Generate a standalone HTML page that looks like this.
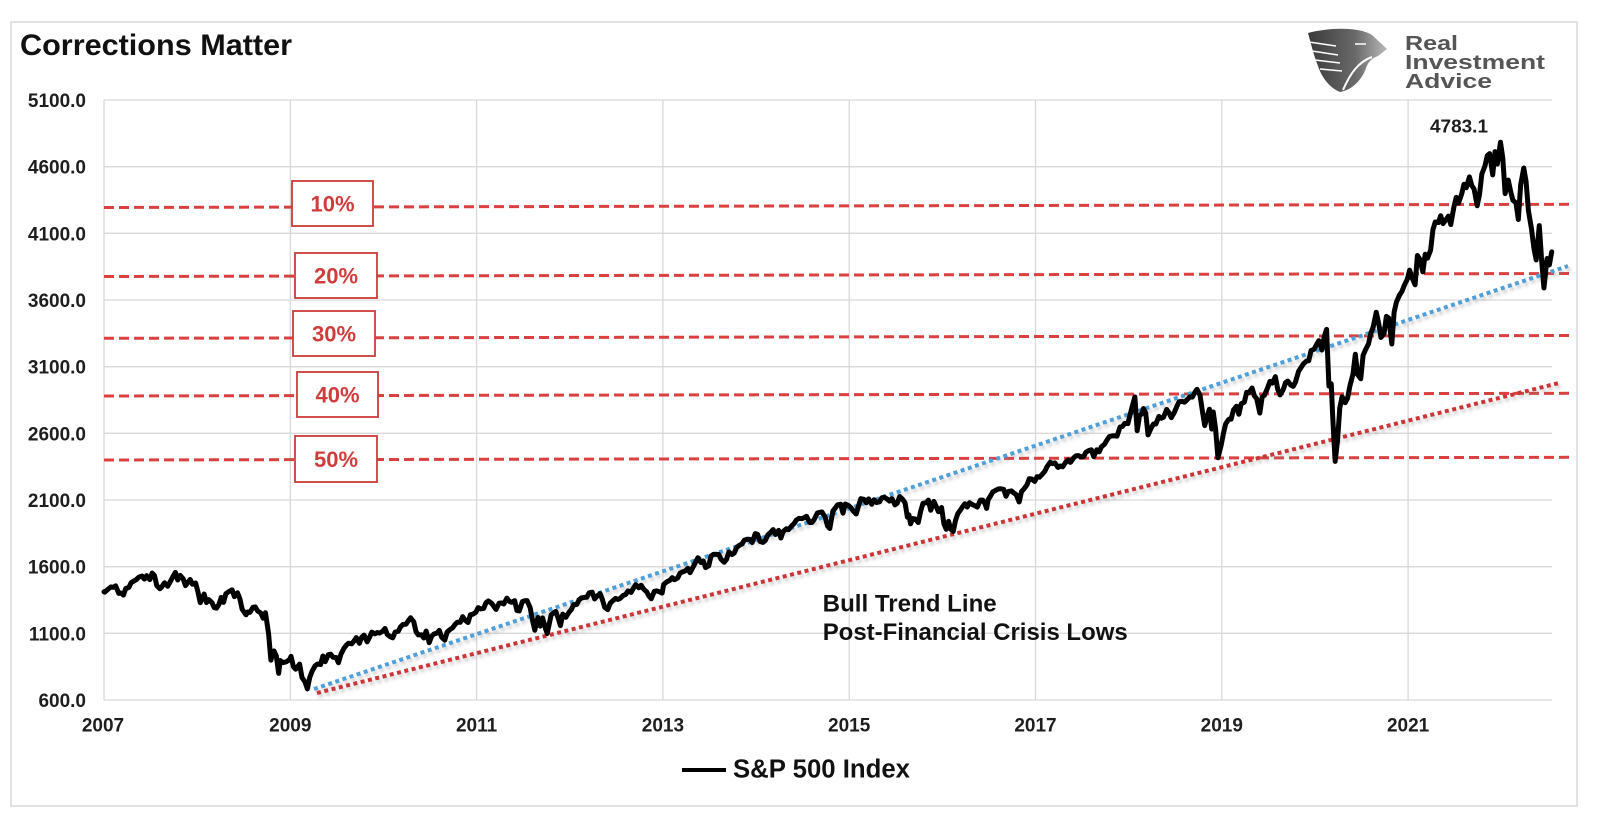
<!DOCTYPE html>
<html>
<head>
<meta charset="utf-8">
<style>
html,body{margin:0;padding:0;background:#fff;}
svg{display:block;}
text{font-family:"Liberation Sans",Arial,sans-serif;}
</style>
</head>
<body>
<svg width="1602" height="826" viewBox="0 0 1602 826" xmlns="http://www.w3.org/2000/svg">
<defs>
  <filter id="sh" x="-5%" y="-20%" width="110%" height="140%">
    <feDropShadow dx="2" dy="3" stdDeviation="1.6" flood-color="#888" flood-opacity="0.45"/>
  </filter>
  <linearGradient id="eg" x1="0" y1="0" x2="1" y2="0">
    <stop offset="0" stop-color="#3a3a3a"/>
    <stop offset="0.6" stop-color="#6a6a6a"/>
    <stop offset="1" stop-color="#b8b8b8"/>
  </linearGradient>
</defs>
<rect x="0" y="0" width="1602" height="826" fill="#fff"/>
<rect x="11" y="22" width="1566" height="784" fill="#fff" stroke="#d9d9d9" stroke-width="1.5"/>

<!-- title -->
<text x="20" y="55" font-size="30" font-weight="bold" fill="#111" textLength="272" lengthAdjust="spacingAndGlyphs">Corrections Matter</text>

<!-- logo -->
<g>
  <path d="M1308,33 C1330,27 1360,27 1372,35 L1387,49 L1378,56 C1372,58 1368,62 1366,68 C1362,80 1352,90 1340,92 C1330,88 1322,78 1318,66 C1314,56 1311,44 1308,33 Z" fill="url(#eg)"/>
  <path d="M1309,42 L1336,46 M1312,51 L1338,55 M1315,60 L1340,63 M1320,69 L1342,71" stroke="#fff" stroke-width="1.6" fill="none"/>
  <path d="M1372,57 C1358,62 1350,74 1343,90" stroke="#fff" stroke-width="2" fill="none"/>
  <path d="M1355,44 L1366,44" stroke="#ddd" stroke-width="2"/>
  <text x="1405" y="50" font-size="20" font-weight="bold" fill="#555" textLength="53" lengthAdjust="spacingAndGlyphs">Real</text>
  <text x="1405" y="69" font-size="20" font-weight="bold" fill="#555" textLength="140" lengthAdjust="spacingAndGlyphs">Investment</text>
  <text x="1405" y="88" font-size="20" font-weight="bold" fill="#555" textLength="87" lengthAdjust="spacingAndGlyphs">Advice</text>
</g>

<!-- grid -->
<g stroke="#d9d9d9" stroke-width="1.3" fill="none">
  <line x1="104" y1="100" x2="1552" y2="100"/>
  <line x1="104" y1="166.67" x2="1552" y2="166.67"/>
  <line x1="104" y1="233.33" x2="1552" y2="233.33"/>
  <line x1="104" y1="300" x2="1552" y2="300"/>
  <line x1="104" y1="366.67" x2="1552" y2="366.67"/>
  <line x1="104" y1="433.33" x2="1552" y2="433.33"/>
  <line x1="104" y1="500" x2="1552" y2="500"/>
  <line x1="104" y1="566.67" x2="1552" y2="566.67"/>
  <line x1="104" y1="633.33" x2="1552" y2="633.33"/>
  <line x1="104" y1="700" x2="1552" y2="700"/>
  <line x1="104" y1="100" x2="104" y2="700"/>
  <line x1="290.3" y1="100" x2="290.3" y2="700"/>
  <line x1="476.6" y1="100" x2="476.6" y2="700"/>
  <line x1="662.9" y1="100" x2="662.9" y2="700"/>
  <line x1="849.2" y1="100" x2="849.2" y2="700"/>
  <line x1="1035.5" y1="100" x2="1035.5" y2="700"/>
  <line x1="1221.8" y1="100" x2="1221.8" y2="700"/>
  <line x1="1408.1" y1="100" x2="1408.1" y2="700"/>
</g>

<!-- y labels -->
<g font-size="19" font-weight="bold" fill="#1e1e1e" text-anchor="end">
  <text x="86" y="107">5100.0</text>
  <text x="86" y="173.7">4600.0</text>
  <text x="86" y="240.3">4100.0</text>
  <text x="86" y="307">3600.0</text>
  <text x="86" y="373.7">3100.0</text>
  <text x="86" y="440.3">2600.0</text>
  <text x="86" y="507">2100.0</text>
  <text x="86" y="573.7">1600.0</text>
  <text x="86" y="640.3">1100.0</text>
  <text x="86" y="707">600.0</text>
</g>

<!-- x labels -->
<g font-size="19" font-weight="bold" fill="#1e1e1e" text-anchor="middle">
  <text x="103" y="731.5">2007</text>
  <text x="290.3" y="731.5">2009</text>
  <text x="476.6" y="731.5">2011</text>
  <text x="662.9" y="731.5">2013</text>
  <text x="849.2" y="731.5">2015</text>
  <text x="1035.5" y="731.5">2017</text>
  <text x="1221.8" y="731.5">2019</text>
  <text x="1408.1" y="731.5">2021</text>
</g>

<!-- correction dashed lines -->
<g stroke="#d9403f" stroke-width="3" stroke-dasharray="10 5" fill="none">
  <line x1="104" y1="207.5" x2="1572" y2="204.3"/>
  <line x1="104" y1="276.5" x2="1572" y2="273.5"/>
  <line x1="104" y1="338.3" x2="1572" y2="335.5"/>
  <line x1="104" y1="396" x2="1572" y2="393.3"/>
  <line x1="104" y1="460" x2="1572" y2="457.3"/>
</g>

<!-- trend lines -->
<g filter="url(#sh)" fill="none" stroke-width="4" stroke-dasharray="4 3.5">
  <line x1="314" y1="689" x2="1568" y2="266" stroke="#4f9fd8"/>
  <line x1="317" y1="693" x2="1559" y2="383" stroke="#cc3538"/>
</g>

<!-- S&P 500 series -->
<polyline fill="none" stroke="#000" stroke-width="5" stroke-linejoin="round" stroke-linecap="round" vector-effect="non-scaling-stroke"
 transform="matrix(7.7625 0 0 -0.1333333 104 780)"
 points="0,1412 0.1,1409 0.5,1430 0.9,1448 1.2,1445 1.5,1456 1.9,1400 2.2,1402 2.5,1387 2.8,1436 3.2,1444 3.5,1480 3.9,1494 4.2,1505 4.5,1522 4.9,1530 5.2,1507 5.5,1533 5.9,1503 6.2,1552 6.5,1534 6.8,1458 7.2,1434 7.4,1445 7.8,1479 8.2,1453 8.5,1484 8.9,1527 9.2,1557 9.5,1500 9.8,1535 10.2,1509 10.5,1458 10.8,1481 11.1,1504 11.4,1468 11.8,1478 12.1,1411 12.4,1330 12.6,1355 12.9,1395 13.2,1331 13.5,1353 13.9,1331 14.2,1293 14.5,1289 14.8,1316 15.1,1370 15.4,1332 15.7,1397 16.1,1413 16.5,1426 16.8,1375 17.2,1404 17.5,1360 17.8,1280 18.3,1239 18.5,1260 18.8,1257 19.2,1296 19.5,1298 19.8,1267 20.2,1252 20.5,1213 20.8,1255 21.2,1099 21.5,899 21.7,940 21.9,968 22.2,930 22.5,800 22.7,896 23.1,880 23.5,887 23.9,903 24.1,927 24.4,850 24.7,831 25.2,869 25.5,770 25.9,735 26.2,683 26.5,768 26.8,815 27.2,857 27.5,870 27.9,866 28.2,930 28.5,887 28.9,940 29.2,944 29.5,921 29.9,919 30.2,879 30.5,940 30.9,987 31.2,1010 31.5,1026 31.9,1021 32.2,1042 32.5,1068 32.9,1025 33.2,1071 33.5,1087 33.9,1036 34.2,1070 34.5,1109 34.9,1096 35.2,1106 35.5,1102 35.9,1115 36.2,1136 36.5,1091 36.9,1074 37.2,1066 37.5,1109 37.9,1115 38.2,1149 38.5,1166 38.9,1169 39.2,1194 39.5,1217 39.9,1187 40.2,1111 40.5,1088 40.9,1089 41.2,1065 41.5,1117 41.9,1030 42.2,1078 42.5,1095 42.9,1102 43.2,1122 43.5,1071 43.9,1049 44.2,1109 44.5,1125 44.9,1141 45.2,1165 45.5,1183 45.9,1183 46.2,1225 46.5,1199 46.9,1181 47.2,1240 47.5,1243 47.9,1258 48.2,1293 48.5,1283 48.9,1286 49.2,1329 49.5,1343 49.9,1327 50.2,1304 50.5,1279 50.9,1326 51.2,1328 51.5,1320 51.9,1364 52.2,1340 52.5,1333 52.9,1345 53.2,1271 53.5,1268 53.9,1339 54.2,1344 54.5,1345 54.9,1292 55.2,1199 55.5,1123 55.7,1176 55.9,1219 56.2,1154 56.5,1216 56.9,1131 57.1,1099 57.3,1155 57.6,1238 57.9,1253 58.2,1264 58.5,1216 58.8,1158 59.1,1244 59.5,1220 59.9,1258 60.2,1278 60.5,1315 60.9,1316 61.2,1351 61.5,1365 61.9,1370 62.2,1371 62.5,1404 62.9,1408 63.2,1358 63.5,1378 63.9,1398 64.2,1354 64.5,1295 64.9,1278 65.2,1325 65.5,1342 65.9,1362 66.2,1354 66.5,1362 66.9,1385 67.2,1391 67.5,1418 67.9,1407 68.2,1438 68.5,1465 68.9,1441 69.2,1461 69.5,1433 69.9,1412 70.2,1380 70.5,1359 70.9,1416 71.2,1418 71.5,1413 71.9,1402 72.1,1466 72.5,1486 72.9,1498 73.2,1518 73.5,1502 73.9,1515 74.2,1551 74.5,1560 74.9,1569 75.2,1588 75.5,1555 75.9,1598 76.2,1633 76.5,1667 76.9,1631 77.2,1643 77.5,1593 77.9,1606 78.2,1680 78.5,1692 78.9,1692 79.2,1691 79.5,1655 79.9,1633 80.2,1656 80.5,1710 80.9,1691 81.2,1703 81.5,1745 81.9,1762 82.2,1771 82.5,1799 82.9,1806 83.2,1805 83.5,1781 83.9,1848 84.2,1842 84.5,1790 84.9,1782 85.2,1797 85.5,1837 85.9,1859 86.2,1878 86.5,1841 86.9,1872 87.2,1815 87.5,1864 87.9,1884 88.2,1878 88.5,1900 88.9,1924 89.2,1950 89.5,1962 89.9,1960 90.2,1967 90.5,1978 90.9,1931 91.2,1931 91.5,1955 91.9,2003 92.2,2007 92.5,2010 92.9,1972 93.2,1906 93.5,1886 93.9,2018 94.2,2039 94.5,2064 94.9,2068 95.2,2002 95.5,2070 95.9,2059 96.2,2044 96.5,2019 96.9,1995 97.2,2055 97.5,2110 97.9,2104 98.2,2079 98.5,2108 98.9,2068 99.2,2102 99.5,2081 99.9,2086 100.2,2116 100.5,2122 100.9,2107 101.2,2092 101.5,2110 101.9,2063 102.2,2077 102.5,2126 102.9,2104 103.2,2078 103.5,1971 103.7,1988 103.9,1921 104.2,1961 104.5,1958 104.9,1931 105.2,2014 105.5,2075 105.9,2079 106.2,2099 106.5,2023 106.9,2090 107.2,2052 107.5,2012 107.9,2044 108.2,1922 108.5,1880 108.8,1940 109.1,1880 109.4,1864 109.7,1948 110,1999 110.3,2022 110.6,2049 110.9,2072 111.2,2047 111.5,2080 111.9,2065 112.2,2057 112.5,2047 112.9,2099 113.2,2099 113.5,2071 113.7,2037 113.9,2102 114.2,2130 114.5,2161 114.9,2173 115.2,2183 115.5,2184 115.9,2180 116.2,2128 116.5,2164 116.9,2168 117.2,2153 117.5,2141 117.9,2085 118.2,2164 118.5,2182 118.9,2213 119.2,2259 119.5,2258 119.9,2239 120.2,2275 120.5,2271 120.9,2295 121.2,2316 121.5,2351 121.9,2383 122.2,2373 122.5,2378 122.9,2344 123.2,2355 123.5,2349 123.9,2384 124.2,2399 124.5,2382 124.9,2415 125.2,2431 125.5,2433 125.9,2423 126.2,2425 126.5,2459 126.9,2472 127.2,2476 127.5,2425 127.9,2477 128.2,2461 128.5,2500 128.9,2519 129.2,2549 129.5,2575 129.9,2581 130.2,2582 130.5,2579 130.9,2648 131.2,2651 131.5,2675 131.9,2673 132.2,2743 132.5,2810 132.8,2873 133.1,2619 133.4,2732 133.7,2747 133.9,2786 134.2,2752 134.5,2588 134.9,2640 135.2,2670 135.5,2670 135.9,2727 136.2,2713 136.5,2721 136.9,2779 137.2,2754 137.5,2718 137.9,2759 138.2,2801 138.5,2837 138.9,2840 139.2,2833 139.5,2850 139.9,2874 140.2,2872 140.5,2905 140.8,2930 141.2,2885 141.5,2767 141.8,2658 142.1,2723 142.4,2781 142.7,2632 142.9,2760 143.2,2633 143.5,2417 143.9,2507 144.2,2596 144.5,2671 144.9,2706 145.2,2707 145.5,2775 145.9,2803 146.2,2743 146.5,2822 146.9,2834 147.2,2907 147.5,2905 147.9,2940 148.2,2881 148.5,2860 148.9,2752 149.2,2873 149.5,2886 149.9,2941 150.2,2990 150.5,2976 150.9,3025 151.2,2932 151.5,2888 151.9,2926 152.2,2979 152.5,2992 152.9,2961 153.2,2952 153.5,2986 153.9,3066 154.2,3093 154.5,3120 154.9,3141 155.2,3145 155.5,3221 155.9,3231 156.2,3265 156.5,3295 156.9,3225 157.2,3327 157.5,3380 157.8,2954 158.1,2972 158.3,2711 158.6,2390 158.9,2541 159.2,2790 159.5,2875 159.9,2830 160.2,2863 160.5,2955 160.9,3044 161.2,3193 161.5,3041 161.9,3009 162.2,3185 162.5,3225 162.9,3271 163.2,3351 163.5,3397 163.9,3508 164.2,3427 164.5,3319 164.9,3348 165.2,3477 165.5,3465 165.9,3270 166.2,3509 166.5,3585 166.9,3638 167.2,3663 167.5,3709 167.9,3756 168.2,3824 168.5,3768 168.9,3714 169.2,3934 169.5,3906 169.9,3811 170.2,3943 170.5,3913 170.9,3974 171.2,4128 171.5,4185 171.9,4181 172.2,4232 172.5,4173 172.9,4204 173.2,4229 173.5,4166 173.9,4298 174.2,4370 174.5,4327 174.9,4395 175.2,4468 175.5,4442 175.9,4523 176.2,4459 176.5,4432 176.9,4307 177.2,4391 177.5,4545 177.9,4605 178.2,4683 178.5,4698 178.9,4538 179.2,4713 179.5,4620 179.9,4783 180.2,4663 180.5,4398 180.9,4500 181.2,4418 181.5,4348 181.9,4328 182.2,4204 182.5,4463 182.9,4590 183.2,4488 183.5,4271 183.9,4132 184.2,3991 184.5,3901 184.9,4158 185.2,3901 185.5,3690 185.9,3911 186.2,3863 186.5,3961"/>

<!-- percentage boxes -->
<g fill="#fff" stroke="#cc3b3b" stroke-width="1.8">
  <rect x="292" y="181" width="81" height="45"/>
  <rect x="295" y="253" width="82" height="45"/>
  <rect x="293" y="311" width="82" height="45"/>
  <rect x="297" y="372" width="81" height="45"/>
  <rect x="295" y="436" width="82" height="46"/>
</g>
<g font-size="22" font-weight="bold" fill="#d03c3c" text-anchor="middle">
  <text x="332.5" y="211.5">10%</text>
  <text x="336" y="283.5">20%</text>
  <text x="334" y="341.5">30%</text>
  <text x="337.5" y="402.5">40%</text>
  <text x="336" y="467">50%</text>
</g>

<!-- peak label -->
<text x="1430" y="132.7" font-size="18" font-weight="bold" fill="#1e1e1e" textLength="58" lengthAdjust="spacingAndGlyphs">4783.1</text>

<!-- annotation -->
<text x="822.7" y="611.7" font-size="24" font-weight="bold" fill="#111" textLength="174" lengthAdjust="spacingAndGlyphs">Bull Trend Line</text>
<text x="822.7" y="640" font-size="24" font-weight="bold" fill="#111" textLength="305" lengthAdjust="spacingAndGlyphs">Post-Financial Crisis Lows</text>

<!-- legend -->
<line x1="682" y1="770" x2="726" y2="770" stroke="#000" stroke-width="4"/>
<text x="733" y="777.3" font-size="25.5" font-weight="bold" fill="#111" textLength="177" lengthAdjust="spacingAndGlyphs">S&amp;P 500 Index</text>
</svg>
</body>
</html>
